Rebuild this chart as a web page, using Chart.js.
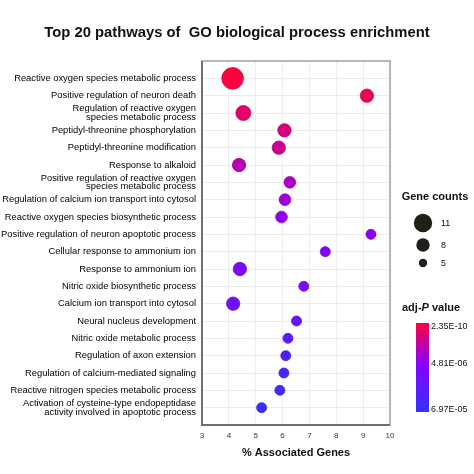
<!DOCTYPE html>
<html><head><meta charset="utf-8">
<script src="https://cdn.jsdelivr.net/npm/chart.js@4.4.0/dist/chart.umd.min.js"></script>
<style>html,body{margin:0;padding:0;background:#fff}#wrap{width:474px;height:474px;position:relative}</style>
</head><body><div id="wrap"><canvas id="c"></canvas></div>
<script>
const pathways = [
  'Reactive oxygen species metabolic process',
  'Positive regulation of neuron death',
  ['Regulation of reactive oxygen', 'species metabolic process'],
  'Peptidyl-threonine phosphorylation',
  'Peptidyl-threonine modification',
  'Response to alkaloid',
  ['Positive regulation of reactive oxygen', 'species metabolic process'],
  'Regulation of calcium ion transport into cytosol',
  'Reactive oxygen species biosynthetic process',
  'Positive regulation of neuron apoptotic process',
  'Cellular response to ammonium ion',
  'Response to ammonium ion',
  'Nitric oxide biosynthetic process',
  'Calcium ion transport into cytosol',
  'Neural nucleus development',
  'Nitric oxide metabolic process',
  'Regulation of axon extension',
  'Regulation of calcium-mediated signaling',
  'Reactive nitrogen species metabolic process',
  ['Activation of cysteine-type endopeptidase', 'activity involved in apoptotic process']
];
const percentGenes = [4.14, 9.14, 4.54, 6.07, 5.86, 4.38, 6.27, 6.09, 5.96, 9.29, 7.59, 4.41, 6.79, 4.16, 6.52, 6.20, 6.12, 6.05, 5.90, 5.22];
const geneCounts = [12, 7, 8, 7, 7, 7, 6, 6, 6, 5, 5, 7, 5, 7, 5, 5, 5, 5, 5, 5];
const adjP = [2.35e-10, 6.9e-10, 2.0e-9, 6.0e-9, 1.8e-8, 8.0e-8, 2.9e-7, 6.9e-7, 2.0e-6, 3.9e-6, 5.9e-6, 7.5e-6, 8.7e-6, 1.06e-5, 1.43e-5, 2.0e-5, 2.6e-5, 3.3e-5, 4.2e-5, 5.4e-5];
const xTicks = [3, 4, 5, 6, 7, 8, 9, 10];
const legendCounts = [11, 8, 5];
const colorbarValues = [2.35e-10, 4.81e-6, 6.97e-5];
const colorbarLabels = ['2.35E-10', '4.81E-06', '6.97E-05'];
const chartTitle = 'Top 20 pathways of  GO biological process enrichment';

const MID = 0.46;
const cRed = [255, 0, 64], cPurple = [136, 0, 255], cBlue = [51, 51, 255];
function pToT(p) {
  const l = Math.log10(p);
  const a = Math.log10(colorbarValues[0]), b = Math.log10(colorbarValues[1]), c = Math.log10(colorbarValues[2]);
  if (l <= b) return Math.max(0, (l - a) / (b - a) * MID);
  return Math.min(1, MID + (l - b) / (c - b) * (1 - MID));
}
function mix(c1, c2, f) { return c1.map((v, i) => Math.round(v + (c2[i] - v) * f)); }
function colorFor(p, dark) {
  const t = pToT(p);
  let c = t < MID ? mix(cRed, cPurple, t / MID) : mix(cPurple, cBlue, (t - MID) / (1 - MID));
  if (dark) c = c.map(v => Math.round(v * 0.85));
  return 'rgb(' + c.join(',') + ')';
}
function radiusFor(n) { return 0.833 * n + 0.83; }

const FONT = "'Liberation Sans', Arial, sans-serif";

const framePlugin = {
  id: 'frame',
  beforeDatasetsDraw(chart) {
    const { ctx, chartArea: a } = chart;
    ctx.save();
    ctx.strokeStyle = '#a0a0a0';
    ctx.lineWidth = 1.5;
    ctx.strokeRect(a.left, a.top, a.right - a.left, a.bottom - a.top);
    ctx.strokeStyle = '#707070';
    ctx.lineWidth = 2;
    ctx.beginPath();
    ctx.moveTo(a.left, a.top); ctx.lineTo(a.left, a.bottom); ctx.lineTo(a.right, a.bottom);
    ctx.stroke();
    ctx.restore();
  },
  afterDraw(chart) {
    const ctx = chart.ctx;
    ctx.save();
    ctx.fillStyle = '#111';
    ctx.textBaseline = 'middle';
    ctx.textAlign = 'center';
    ctx.font = 'bold 14.8px ' + FONT;
    ctx.fillText(chartTitle, 237, 33);
    ctx.font = 'bold 11px ' + FONT;
    ctx.fillText('Gene counts', 435, 197);
    const ly = [223, 245, 263];
    legendCounts.forEach((n, i) => {
      ctx.beginPath();
      ctx.fillStyle = '#20201a';
      ctx.arc(423, ly[i], radiusFor(n) - 0.8, 0, Math.PI * 2);
      ctx.fill();
      ctx.fillStyle = '#111';
      ctx.font = '9px ' + FONT;
      ctx.textAlign = 'left';
      ctx.fillText(String(n), 441, ly[i] + 0.5);
    });
    ctx.textAlign = 'left';
    let x = 402;
    ctx.font = 'bold 11px ' + FONT;
    ctx.fillText('adj-', x, 308); x += ctx.measureText('adj-').width;
    ctx.font = 'italic bold 11px ' + FONT;
    ctx.fillText('P', x, 308); x += ctx.measureText('P').width;
    ctx.font = 'bold 11px ' + FONT;
    ctx.fillText(' value', x, 308);
    const top = 323, bot = 412, l = 416, w = 13;
    const g = ctx.createLinearGradient(0, top, 0, bot);
    g.addColorStop(0, 'rgb(' + cRed.join(',') + ')');
    g.addColorStop(MID, 'rgb(' + cPurple.join(',') + ')');
    g.addColorStop(1, 'rgb(' + cBlue.join(',') + ')');
    ctx.fillStyle = g;
    ctx.fillRect(l, top, w, bot - top);
    ctx.fillStyle = '#111';
    ctx.font = '9px ' + FONT;
    const lyc = [327, 364, 410];
    colorbarLabels.forEach((s, i) => ctx.fillText(s, 431, lyc[i]));
    ctx.restore();
  }
};

new Chart(document.getElementById('c'), {
  type: 'scatter',
  data: {
    datasets: [{
      data: percentGenes.map((v, i) => ({ x: v, y: i + 1 })),
      pointRadius: c => radiusFor(geneCounts[c.dataIndex]),
      pointHoverRadius: c => radiusFor(geneCounts[c.dataIndex]),
      backgroundColor: c => colorFor(adjP[c.dataIndex], false),
      borderColor: c => colorFor(adjP[c.dataIndex], true),
      borderWidth: 0.8,
      clip: false
    }]
  },
  options: {
    responsive: true,
    maintainAspectRatio: false,
    animation: false,
    devicePixelRatio: 1,
    layout: { padding: { left: 0, right: 84, top: 61, bottom: 0 } },
    plugins: {
      legend: { display: false },
      tooltip: { enabled: false },
      title: { display: false }
    },
    scales: {
      x: {
        type: 'linear', min: 3, max: 10,
        afterBuildTicks: s => { s.ticks = xTicks.map(v => ({ value: v })); },
        afterFit: s => { s.height = 49; },
        ticks: { color: '#333', font: { family: FONT, size: 8 }, padding: 6, maxRotation: 0 },
        grid: { color: '#ececec', lineWidth: 1, drawTicks: false },
        border: { display: false },
        title: {
          display: true, text: '% Associated Genes', color: '#111',
          font: { family: FONT, size: 11, weight: 'bold' },
          padding: { top: 6, bottom: 14 }
        }
      },
      y: {
        type: 'linear', min: 0, max: 21, reverse: true,
        afterBuildTicks: s => { s.ticks = pathways.map((p, i) => ({ value: i + 1 })); },
        afterFit: s => { s.width = 202; },
        ticks: {
          color: '#000', font: { family: FONT, size: 9.4, lineHeight: 0.92 }, padding: 6,
          autoSkip: false,
          callback: v => pathways[v - 1] || ''
        },
        grid: { color: '#ececec', lineWidth: 1, drawTicks: false },
        border: { display: false }
      }
    }
  },
  plugins: [framePlugin]
});
</script>
</body></html>
